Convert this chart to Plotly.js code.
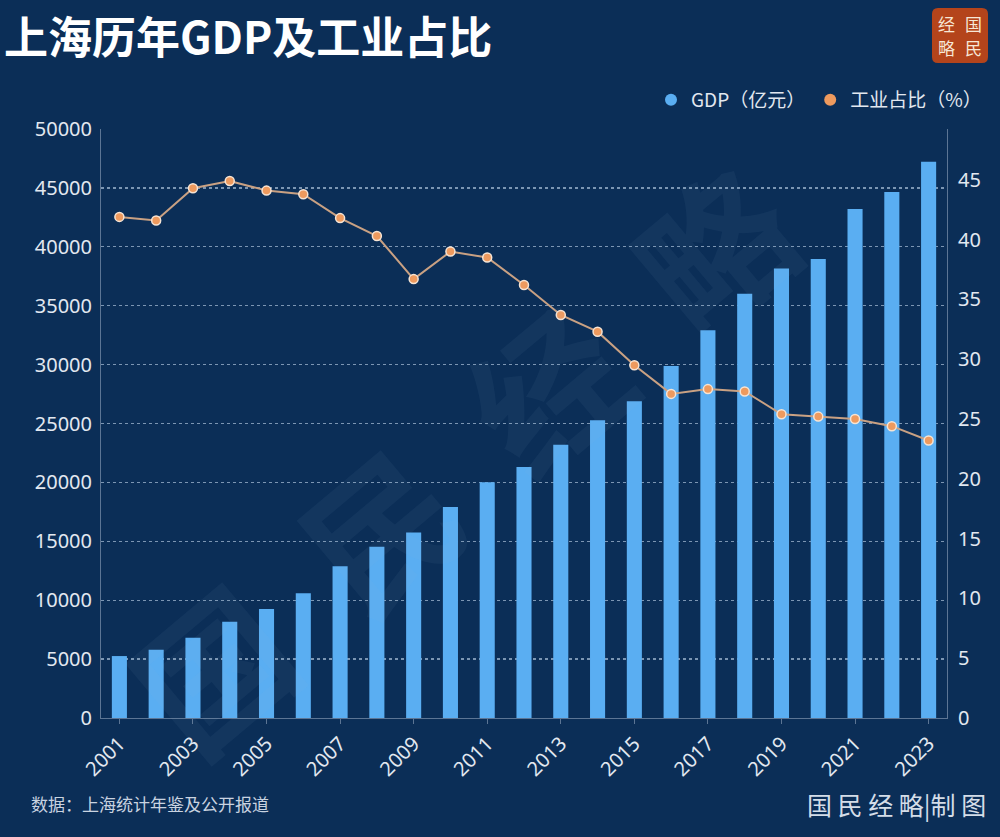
<!DOCTYPE html>
<html>
<head>
<meta charset="utf-8">
<script src="https://cdn.plot.ly/plotly-3.0.1.min.js"></script>
<style>
html,body{margin:0;padding:0;background:#0b2e57;}
#chart{width:1000px;height:837px;}
</style>
</head>
<body>
<div id="chart"></div>
<script>
const years = ['2001','2002','2003','2004','2005','2006','2007','2008','2009','2010','2011','2012','2013','2014','2015','2016','2017','2018','2019','2020','2021','2022','2023'];
const gdp = [5258,5795,6804,8165,9248,10598,12878,14536,15742,17915,20009,21306,23204,25269,26887,29887,32925,36012,38155,38963,43215,44653,47219];
const industryShare = [41.9,41.6,44.3,44.9,44.1,43.8,41.8,40.3,36.7,39.0,38.5,36.2,33.7,32.3,29.5,27.1,27.5,27.3,25.4,25.2,25.0,24.4,23.2];
const xTickYears = ['2001','2003','2005','2007','2009','2011','2013','2015','2017','2019','2021','2023'];
const leftTicks = [0,5000,10000,15000,20000,25000,30000,35000,40000,45000,50000];
const leftTickText = ['0','5000','10000','15000','20000','25000','30000','35000','40000','45000','50000'];
const rightTicks = [0,5,10,15,20,25,30,35,40,45];
const gdpName = 'GDP（亿元）';
const shareName = '工业占比（%）';

const BG = '#0b2e57';
const BAR = '#5aaef2';
const LINE = '#c9a183';
const DOT = '#ee9a5e';
const TXT = '#e2e8f0';
const AXIS = 'rgba(190,205,225,0.45)';
const FONT = 'Noto Sans, Noto Sans CJK SC, sans-serif';
const CJK = 'Noto Sans CJK SC, sans-serif';

const traces = [
  {type:'bar', x:years, y:gdp, name:gdpName, marker:{color:BAR}, width:0.41, showlegend:false, yaxis:'y'},
  {type:'scatter', mode:'lines+markers', x:years, y:industryShare, name:shareName, yaxis:'y2', showlegend:false,
   line:{color:LINE, width:2}, marker:{color:DOT, size:9, line:{color:'#f6e4d4', width:1.5}}},
  {type:'scatter', mode:'markers', x:[null], y:[null], name:gdpName, marker:{color:BAR, size:12, symbol:'circle'}, showlegend:true},
  {type:'scatter', mode:'markers', x:[null], y:[null], name:shareName, yaxis:'y2', marker:{color:DOT, size:12, symbol:'circle'}, showlegend:true}
];

const L=101, R=53, T=129, B=119;
const PW = 1000-L-R, PH = 837-T-B;
const px = X => (X-L)/PW;
const py = Y => (837-B-Y)/PH;

function ann(text, X, Y, font, xa, ya, extra) {
  return Object.assign({text:text, xref:'paper', yref:'paper', x:px(X), y:py(Y), xanchor:xa||'center', yanchor:ya||'middle',
    showarrow:false, font:font}, extra||{});
}

const logoFont = {family:CJK, size:17, color:'#f6e7d6'};

const layout = {
  width:1000, height:837,
  paper_bgcolor:BG, plot_bgcolor:BG,
  margin:{l:L, r:R, t:T, b:B, pad:0},
  font:{family:FONT, color:TXT, size:20},
  title:{text:'上海历年GDP及工业占比', x:0.004, xanchor:'left', xref:'container', y:1-39/837, yanchor:'middle', yref:'container',
         font:{family:CJK, size:44, color:'#ffffff', weight:'bold'}},
  xaxis:{type:'category', range:[-0.5,22.5], tickmode:'array', tickvals:xTickYears, ticktext:xTickYears,
         tickangle:-45, ticks:'outside', ticklen:5, tickcolor:AXIS, showline:true, linecolor:AXIS, linewidth:1,
         showgrid:false, zeroline:false, tickfont:{size:20, color:TXT, family:FONT}},
  yaxis:{range:[0,50000], tickmode:'array', tickvals:leftTicks, ticktext:leftTickText, showline:true, linecolor:AXIS, linewidth:1,
         showgrid:true, gridcolor:'rgba(200,220,240,0.6)', griddash:'dot', gridwidth:1.3, zeroline:false,
         ticks:'', tickfont:{size:20, color:TXT, family:FONT}, ticklabelstandoff:4},
  yaxis2:{range:[0,49.25], tickmode:'array', tickvals:rightTicks, overlaying:'y', side:'right', showline:true,
          linecolor:AXIS, linewidth:1, showgrid:false, zeroline:false, ticks:'', tickfont:{size:20, color:TXT, family:FONT}, ticklabelstandoff:6},
  legend:{orientation:'h', xref:'container', yref:'container', x:0.987, xanchor:'right', y:1-100/837, yanchor:'middle',
          font:{size:19, color:TXT, family:CJK}, bgcolor:'rgba(0,0,0,0)', itemwidth:30, itemsizing:'constant'},
  shapes:[
    {type:'path', xref:'paper', yref:'paper', xsizemode:'pixel', ysizemode:'pixel', xanchor:px(960), yanchor:py(35.5),
     path:'M -22 27.5 L 22 27.5 Q 28 27.5 28 21.5 L 28 -21.5 Q 28 -27.5 22 -27.5 L -22 -27.5 Q -28 -27.5 -28 -21.5 L -28 21.5 Q -28 27.5 -22 27.5 Z',
     fillcolor:'#b4441b', line:{width:0}}
  ],
  annotations:[
    ann('国  民  经  略', 460, 455, {family:CJK, size:150, color:'rgba(150,185,220,0.06)', weight:'bold'}, 'center', 'middle', {textangle:-40}),
    ann('经', 946, 24, logoFont),
    ann('国', 973, 24, logoFont),
    ann('略', 946, 47, logoFont),
    ann('民', 973, 47, logoFont),
    ann('数据：上海统计年鉴及公开报道', 29, 803, {family:CJK, size:17, color:'#c9d3e0'}, 'left', 'middle'),
    ann('国 民 经 略|制 图', 988, 804, {family:CJK, size:25, color:'#d4dde8'}, 'right', 'middle')
  ]
};

Plotly.newPlot('chart', traces, layout, {displayModeBar:false, staticPlot:true});
</script>
</body>
</html>
